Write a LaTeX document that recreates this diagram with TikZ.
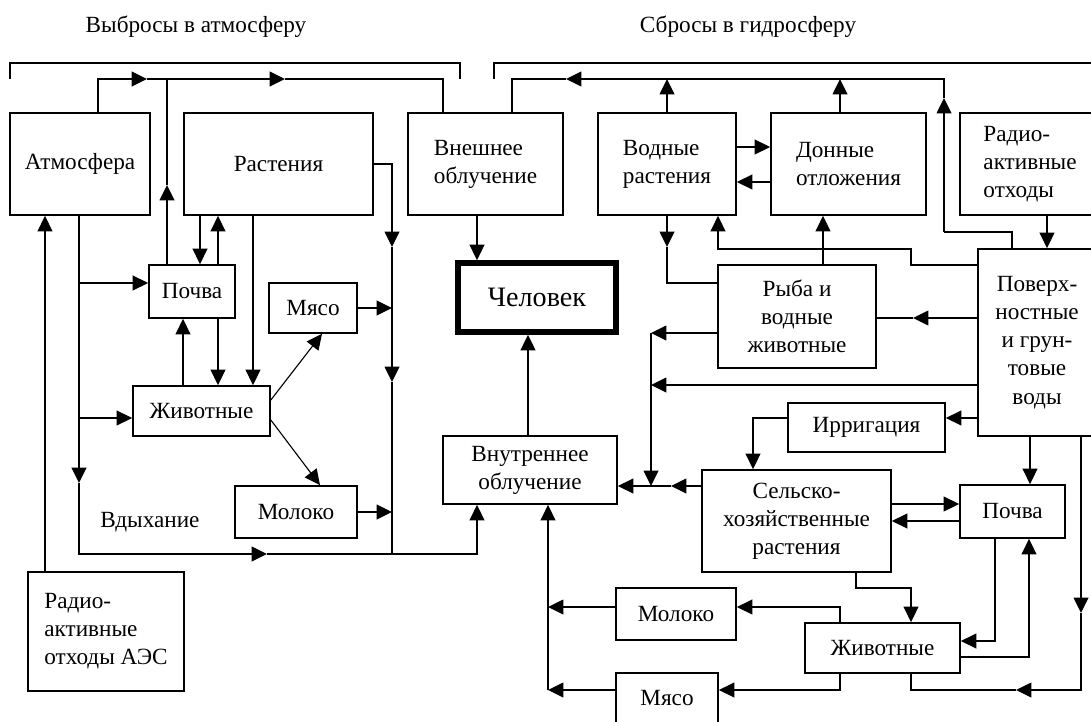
\documentclass[tikz,border=0pt]{standalone}
\usepackage{fontspec}
\setmainfont{Liberation Serif}
\usetikzlibrary{arrows.meta}

\newcommand{\px}{0.025cm}

\tikzset{
  box/.style={draw, line width=1.2pt, inner sep=1pt, align=center,
    font=\fontsize{16.5}{20}\selectfont},
  lbl/.style={inner sep=0pt, font=\fontsize{16.5}{20}\selectfont},
  arr/.style={-{Triangle[length=11pt,width=10.5pt]}},
}

\begin{document}
\begin{tikzpicture}[x=\px, y=-\px, line width=1.2pt]
            \useasboundingbox (0,0) rectangle (1091,722);

            \node[lbl] (hdrair) at (196,27) {Выбросы в атмосферу};
            \node[lbl] (hdrwater) at (748,27) {Сбросы в гидросферу};
            \node[lbl] (breath) at (150,522) {Вдыхание};

            % атмосфера
            \node[box, minimum width=140*\px, minimum height=102*\px] (atm) at (80,164) {Атмосфера};
            \node[box, minimum width=189*\px, minimum height=102*\px] (rast) at (278.5,164) {Растения};
            \node[box, align=left, minimum width=155*\px, minimum height=102*\px] (ext) at (485.5,164) {Внешнее\\облучение};
            \node[box, minimum width=86*\px, minimum height=53*\px] (soil1) at (192,291.5) {Почва};
            \node[box, minimum width=88*\px, minimum height=50*\px] (meat1) at (313,308) {Мясо};
            \node[box, minimum width=137*\px, minimum height=50*\px] (anim1) at (201.5,411) {Животные};
            \node[box, minimum width=122*\px, minimum height=52*\px] (milk1) at (296,512) {Молоко};
            \node[box, align=left, minimum width=156*\px, minimum height=119*\px] (waste1) at (106,631.5) {Радио-\\активные\\отходы АЭС};

            \node[box, line width=4pt, font=\fontsize{20}{23}\selectfont, minimum width=158*\px, minimum height=69*\px] (hum) at (537,297.5) {Человек};
            \node[box, minimum width=174*\px, minimum height=68*\px] (int) at (530,470) {Внутреннее\\облучение};

            % гидросфера
            \node[box, align=left, minimum width=138*\px, minimum height=102*\px] (wpl) at (667,164) {Водные\\растения};
            \node[box, align=left, minimum width=155*\px, minimum height=102*\px] (sed) at (848.5,164) {Донные\\отложения};
            \node[box, align=left, minimum width=140*\px, minimum height=102*\px] (waste2) at (1030,164) {Радио-\\активные\\отходы};
            \node[box, minimum width=118*\px, minimum height=187*\px] (water) at (1037,342.5) {Поверх-\\ностные\\и грун-\\товые\\воды};
            \node[box, minimum width=158*\px, minimum height=103*\px] (fish) at (797,316.5) {Рыба и\\водные\\животные};
            \node[box, minimum width=157*\px, minimum height=49*\px] (irr) at (866.5,427.5) {Ирригация};
            \node[box, minimum width=189*\px, minimum height=102*\px] (crop) at (796.5,521) {Сельско-\\хозяйственные\\растения};
            \node[box, minimum width=105*\px, minimum height=53*\px] (soil2) at (1012.5,511.5) {Почва};
            \node[box, minimum width=155*\px, minimum height=50*\px] (anim2) at (882.5,648) {Животные};
            \node[box, minimum width=120*\px, minimum height=52*\px] (milk2) at (676,614) {Молоко};
            \node[box, minimum width=102*\px, minimum height=51*\px] (meat2) at (667,698.5) {Мясо};

            % скобки
            \draw (10,79) |- (460,63) -- (460,79);
            \draw (494,79) |- (1095,63);

            % левая часть
            \draw[arr] (atm.north -| 98,0) |- (147,79);
            \draw[arr] (147,79) -- (285,79);
            \draw (285,79) -| (ext.north -| 443,0);
            \draw[arr] (soil1.north -| 167,0) -- (167,185);
            \draw (167,185) -- (167,79);

            \draw[arr] (rast.east) -| (392,247);
            \draw[arr] (392,247) -- (392,382);
            \draw (392,382) -- (392,554);
            \draw[arr] (meat1.east) -- (meat1.east -| 392,0);
            \draw[arr] (milk1.east) -- (milk1.east -| 392,0);

            \draw[arr] (atm.south -| 79,0) -- (79,483);
            \draw[arr] (79,483) |- (267,554);
            \draw[arr] (267,554) -| (int.south -| 477,0);
            \draw[arr] (79,283) -- (soil1.west |- 0,283);
            \draw[arr] (79,418) -- (anim1.west |- 0,418);
            \draw[arr] (waste1.north -| 45,0) -- (atm.south -| 45,0);

            \draw[arr] (rast.south -| 200,0) -- (soil1.north -| 200,0);
            \draw[arr] (soil1.north -| 218,0) -- (rast.south -| 218,0);
            \draw[arr] (rast.south -| 253,0) -- (anim1.north -| 253,0);
            \draw[arr] (anim1.north -| 183,0) -- (soil1.south -| 183,0);
            \draw[arr] (soil1.south -| 218,0) -- (anim1.north -| 218,0);
            \draw[arr, line width=0.8pt] (anim1.east |- 0,400) -- (meat1.south -| 322,0);
            \draw[arr, line width=0.8pt] (anim1.east |- 0,420) -- (milk1.north -| 320,0);

            \draw[arr] (ext.south -| 477,0) -- (hum.north -| 477,0);
            \draw[arr] (int.north -| 528,0) -- (hum.south -| 528,0);

            % правая часть
            \draw (water.north -| 1012,0) |- (944,232);
            \draw[arr] (944,232) -- (944,98);
            \draw[arr] (944,98) |- (566,79);
            \draw (566,79) -| (ext.north -| 512,0);
            \draw[arr] (wpl.north) -- (wpl.north |- 0,79);
            \draw[arr] (sed.north -| 840,0) -- (840,79);
            \draw[arr] (wpl.east |- 0,147) -- (sed.west |- 0,147);
            \draw[arr] (sed.west |- 0,182) -- (wpl.east |- 0,182);
            \draw[arr] (waste2.south -| 1047,0) -- (water.north -| 1047,0);
            \draw[arr] (water.west |- 0,265) -| (911,249) -| (wpl.south -| 718,0);
            \draw[arr] (fish.north -| 823,0) -- (sed.south -| 823,0);
            \draw[arr] (wpl.south) -- (667,247);
            \draw (667,247) |- (fish.west |- 0,283);

            \draw[arr] (water.west |- 0,318) -- (913,318);
            \draw (913,318) -- (fish.east |- 0,318);
            \draw[arr] (fish.west |- 0,333) -- (651,333);
            \draw[arr] (651,333) -- (651,486);
            \draw[arr] (water.west |- 0,385) -- (651,385);
            \draw[arr] (water.west |- 0,418) -- (irr.east |- 0,418);
            \draw[arr] (irr.west |- 0,418) -| (crop.north -| 753,0);
            \draw[arr] (crop.west |- 0,486) -- (671,486);
            \draw[arr] (671,486) -- (int.east |- 0,486);

            \draw[arr] (water.south -| 1030,0) -- (soil2.north -| 1030,0);
            \draw[arr] (water.south -| 1081,0) -- (1081,613);
            \draw[arr] (1081,613) |- (1016,690);
            \draw (1016,690) -| (anim2.south -| 911,0);
            \draw[arr] (crop.east |- 0,504) -- (soil2.west |- 0,504);
            \draw[arr] (soil2.west |- 0,521) -- (crop.east |- 0,521);
            \draw[arr] (crop.south -| 856,0) |- (911,588) -- (anim2.north -| 911,0);
            \draw[arr] (soil2.south -| 995,0) |- (anim2.east |- 0,641);
            \draw[arr] (anim2.east |- 0,657) -| (soil2.south -| 1029,0);
            \draw[arr] (anim2.north -| 840,0) |- (milk2.east |- 0,607);
            \draw[arr] (anim2.south -| 840,0) |- (meat2.east |- 0,690);
            \draw[arr] (milk2.west |- 0,607) -- (548,607);
            \draw[arr] (meat2.west |- 0,690) -- (548,690);
            \draw[arr] (548,690) -- (int.south -| 548,0);
        \end{tikzpicture}
\end{document}
